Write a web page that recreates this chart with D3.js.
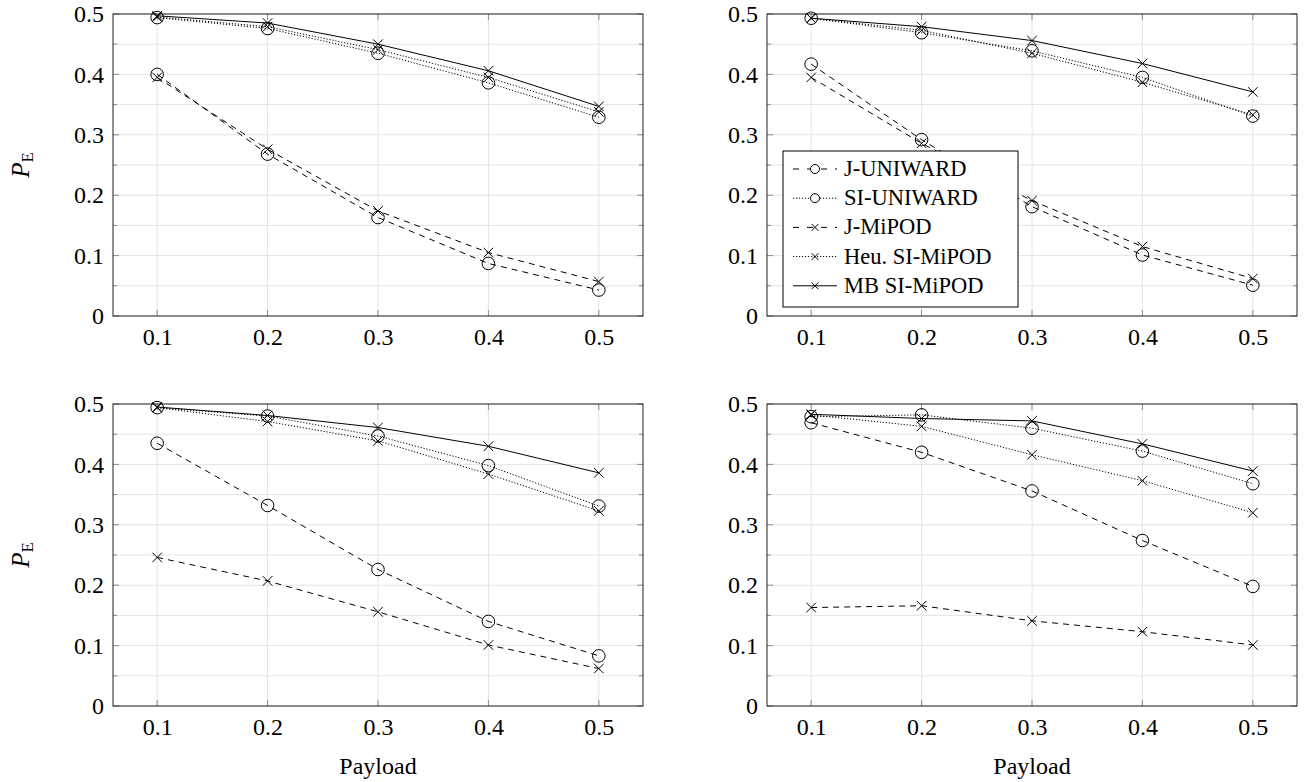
<!DOCTYPE html>
<html>
<head>
<meta charset="utf-8">
<script src="https://cdn.jsdelivr.net/npm/d3@7"></script>
<style>
  body { margin: 0; background: white; }
  text { font-family: "Liberation Serif", "Times New Roman", serif; fill: black; }
</style>
</head>
<body>
<div id="chart"></div>
<script>
// Data: one row per panel (top-left, top-right, bottom-left, bottom-right)
let payload = [0.1, 0.2, 0.3, 0.4, 0.5]
let xTicks = [0.1, 0.2, 0.3, 0.4, 0.5]
let yTicks = [0, 0.1, 0.2, 0.3, 0.4, 0.5]
let yMinor = [0.05, 0.15, 0.25, 0.35, 0.45]

let jUniward = [
  [0.400, 0.268, 0.163, 0.087, 0.043],
  [0.417, 0.292, 0.181, 0.101, 0.051],
  [0.435, 0.332, 0.226, 0.140, 0.083],
  [0.469, 0.420, 0.356, 0.274, 0.198]
]
let siUniward = [
  [0.494, 0.476, 0.435, 0.386, 0.329],
  [0.493, 0.469, 0.439, 0.395, 0.331],
  [0.494, 0.480, 0.447, 0.398, 0.331],
  [0.479, 0.482, 0.460, 0.422, 0.368]
]
let jMipod = [
  [0.395, 0.276, 0.174, 0.105, 0.057],
  [0.395, 0.286, 0.191, 0.115, 0.062],
  [0.246, 0.207, 0.156, 0.101, 0.062],
  [0.163, 0.166, 0.141, 0.123, 0.101]
]
let heuSiMipod = [
  [0.495, 0.479, 0.441, 0.395, 0.338],
  [0.493, 0.473, 0.435, 0.387, 0.333],
  [0.494, 0.471, 0.439, 0.384, 0.323],
  [0.482, 0.463, 0.416, 0.373, 0.320]
]
let mbSiMipod = [
  [0.497, 0.485, 0.450, 0.406, 0.347],
  [0.493, 0.479, 0.456, 0.418, 0.371],
  [0.495, 0.481, 0.461, 0.430, 0.386],
  [0.483, 0.476, 0.472, 0.434, 0.389]
]

let seriesNames = ["J-UNIWARD", "SI-UNIWARD", "J-MiPOD", "Heu. SI-MiPOD", "MB SI-MiPOD"]
let seriesValues = [jUniward, siUniward, jMipod, heuSiMipod, mbSiMipod]
let seriesMarks = ["circle", "circle", "cross", "cross", "cross"]
let seriesDash = ["6,5", "1.2,1.8", "6,5", "1.2,1.8", null]

// Layout
var width = 1304
var height = 782
var plotW = 530
var plotH = 302
var lefts = [113, 767]
var tops = [14, 404]

var svg = d3.select("#chart")
  .append("svg")
  .attr("width", width)
  .attr("height", height)

function drawCross(g, cx, cy, s) {
  g.append("path")
    .attr("d", "M" + (cx - s) + "," + (cy - s) + "L" + (cx + s) + "," + (cy + s) +
               "M" + (cx - s) + "," + (cy + s) + "L" + (cx + s) + "," + (cy - s))
    .attr("stroke", "black")
    .attr("stroke-width", 1)
    .attr("fill", "none")
}

function drawPanel(p) {
  let x0 = lefts[p % 2]
  let y0 = tops[Math.floor(p / 2)]

  let xScale = d3.scaleLinear()
    .domain([0.06, 0.54])
    .range([x0, x0 + plotW])
  let yScale = d3.scaleLinear()
    .domain([0, 0.5])
    .range([y0 + plotH, y0])

  let g = svg.append("g")

  // grid
  g.selectAll(".vgrid")
    .data(xTicks)
    .enter().append("line")
    .attr("x1", d => xScale(d)).attr("x2", d => xScale(d))
    .attr("y1", y0).attr("y2", y0 + plotH)
    .attr("stroke", "#e4e4e4")
  g.selectAll(".hgrid")
    .data(yTicks.concat(yMinor))
    .enter().append("line")
    .attr("x1", x0).attr("x2", x0 + plotW)
    .attr("y1", d => yScale(d)).attr("y2", d => yScale(d))
    .attr("stroke", "#e4e4e4")

  // inward tick marks on all sides
  let tl = 6
  xTicks.forEach(function (d) {
    g.append("line").attr("x1", xScale(d)).attr("x2", xScale(d))
      .attr("y1", y0 + plotH).attr("y2", y0 + plotH - tl).attr("stroke", "#8a8a8a")
    g.append("line").attr("x1", xScale(d)).attr("x2", xScale(d))
      .attr("y1", y0).attr("y2", y0 + tl).attr("stroke", "#8a8a8a")
  })
  yTicks.concat(yMinor).forEach(function (d) {
    let len = yMinor.includes(d) ? 4 : tl
    g.append("line").attr("x1", x0).attr("x2", x0 + len)
      .attr("y1", yScale(d)).attr("y2", yScale(d)).attr("stroke", "#8a8a8a")
    g.append("line").attr("x1", x0 + plotW).attr("x2", x0 + plotW - len)
      .attr("y1", yScale(d)).attr("y2", yScale(d)).attr("stroke", "#8a8a8a")
  })

  // tick labels through d3 axes, with the axis lines hidden
  let xAxis = d3.axisBottom().scale(xScale).tickValues(xTicks).tickSize(0).tickPadding(12)
    .tickFormat(d3.format(".1f"))
  let yAxis = d3.axisLeft().scale(yScale).tickValues(yTicks).tickSize(0).tickPadding(9)
    .tickFormat(d => d == 0 ? "0" : d3.format(".1f")(d))

  let gx = g.append("g")
    .attr("transform", "translate(0," + (y0 + plotH) + ")")
    .call(xAxis)
  let gy = g.append("g")
    .attr("transform", "translate(" + x0 + ",0)")
    .call(yAxis)
  ;[gx, gy].forEach(function (a) {
    a.attr("font-family", "Liberation Serif").attr("font-size", 24)
    a.select(".domain").remove()
    a.selectAll("text").attr("fill", "black").style("font-size", "24px")
  })

  // frame
  g.append("rect")
    .attr("x", x0).attr("y", y0)
    .attr("width", plotW).attr("height", plotH)
    .attr("fill", "none")
    .attr("stroke", "#222")
    .attr("stroke-width", 1)

  // series
  let line = d3.line()
    .x((d, i) => xScale(payload[i]))
    .y(d => yScale(d))

  seriesValues.forEach(function (vals, s) {
    g.append("path")
      .attr("d", line(vals[p]))
      .attr("fill", "none")
      .attr("stroke", "black")
      .attr("stroke-width", 1)
      .attr("stroke-dasharray", seriesDash[s])
  })
  seriesValues.forEach(function (vals, s) {
    let mg = g.append("g")
    vals[p].forEach(function (v, i) {
      if (seriesMarks[s] == "circle") {
        mg.append("circle")
          .attr("cx", xScale(payload[i])).attr("cy", yScale(v))
          .attr("r", 6.3)
          .attr("fill", "none")
          .attr("stroke", "black")
      } else {
        drawCross(mg, xScale(payload[i]), yScale(v), 4.8)
      }
    })
  })

  // axis labels
  if (p >= 2) {
    g.append("text")
      .attr("x", x0 + plotW / 2)
      .attr("y", 774)
      .attr("text-anchor", "middle")
      .style("font-size", "24px")
      .text("Payload")
  }
  if (p % 2 == 0) {
    let t = g.append("text")
      .attr("transform", "translate(29," + (y0 + plotH / 2) + ") rotate(-90)")
      .attr("text-anchor", "middle")
      .style("font-size", "25px")
    t.append("tspan").attr("font-style", "italic").text("P")
    t.append("tspan").style("font-size", "17px").attr("dy", 4).text("E")
  }
}

for (let p = 0; p < 4; p++) drawPanel(p)

// Legend inside the top-right panel
let lx = lefts[1] + 16
let ly = tops[0] + 137
let legend = svg.append("g")
legend.append("rect")
  .attr("x", lx).attr("y", ly)
  .attr("width", 235).attr("height", 156)
  .attr("fill", "white")
  .attr("stroke", "black")
  .attr("stroke-width", 1)

seriesNames.forEach(function (name, s) {
  let cy = ly + 18 + s * 29.2
  legend.append("line")
    .attr("x1", lx + 10).attr("x2", lx + 54)
    .attr("y1", cy).attr("y2", cy)
    .attr("stroke", "black")
    .attr("stroke-dasharray", s == 0 || s == 2 ? "6,8" : seriesDash[s])
  if (seriesMarks[s] == "circle") {
    legend.append("circle")
      .attr("cx", lx + 32).attr("cy", cy).attr("r", 4.5)
      .attr("fill", "white").attr("stroke", "black")
  } else {
    drawCross(legend, lx + 32, cy, 3.4)
  }
  legend.append("text")
    .attr("x", lx + 61)
    .attr("y", cy + 7)
    .style("font-size", "22.5px")
    .text(name)
})
</script>
</body>
</html>
